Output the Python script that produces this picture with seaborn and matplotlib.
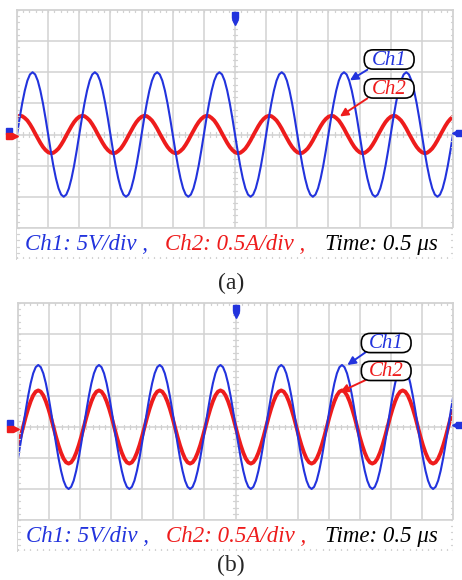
import numpy as np
import pandas as pd
import matplotlib
matplotlib.use("Agg")
import matplotlib.pyplot as plt
from matplotlib.patches import FancyBboxPatch
import seaborn as sns

sns.set_theme(style="white")
plt.rcParams['font.family'] = ['Liberation Serif', 'DejaVu Serif']

# ---- data (in scope divisions), one period sampled at 24 points ----
# panel (a): period 2.0 div, 7 periods across the screen
period_a = 2.0
ch1_a_cycle = [0.0, 0.52, 1.0, 1.41, 1.73, 1.93, 2.0, 1.93, 1.73, 1.41, 1.0, 0.52,
               0.0, -0.52, -1.0, -1.41, -1.73, -1.93, -2.0, -1.93, -1.73, -1.41, -1.0, -0.52]
ch2_a_cycle = [0.57, 0.60, 0.59, 0.53, 0.45, 0.33, 0.19, 0.03, -0.12, -0.27, -0.40, -0.50,
               -0.57, -0.60, -0.59, -0.53, -0.45, -0.33, -0.19, -0.03, 0.12, 0.27, 0.40, 0.50]
# panel (b): period 1.955 div
period_b = 1.955
ch1_b_cycle = [-1.0, -0.52, 0.0, 0.52, 1.0, 1.41, 1.73, 1.93, 2.0, 1.93, 1.73, 1.41,
               1.0, 0.52, 0.0, -0.52, -1.0, -1.41, -1.73, -1.93, -2.0, -1.93, -1.73, -1.41]
ch2_b_cycle = [-0.59, -0.31, 0.0, 0.31, 0.59, 0.83, 1.02, 1.14, 1.18, 1.14, 1.02, 0.83,
               0.59, 0.31, 0.0, -0.31, -0.59, -0.83, -1.02, -1.14, -1.18, -1.14, -1.02, -0.83]

channel_labels = ["Ch1", "Ch2"]
scale_labels = ["Ch1: 5V/div ,", "Ch2: 0.5A/div ,", "Time: 0.5 \u03bcs"]
panel_labels = ["(a)", "(b)"]

BLUE = "#2233dd"
RED = "#ee1c1c"
GRID = "#d2d2d2"


def build(cycle1, cycle2, period):
    n_cycles = 8
    v1 = np.tile(cycle1, n_cycles)
    v2 = np.tile(cycle2, n_cycles)
    x = np.arange(len(v1)) * period / len(cycle1)
    v1 = np.append(v1, cycle1[0])
    v2 = np.append(v2, cycle2[0])
    x = np.append(x, len(cycle1) * n_cycles * period / len(cycle1))
    df = pd.DataFrame({"x": np.concatenate([x, x]),
                       "v": np.concatenate([v1, v2]),
                       "ch": ["Ch1"] * len(x) + ["Ch2"] * len(x)})
    return df[df.x <= 14.05]


def scope_axes(ax):
    ax.set_xlim(0, 14)
    ax.set_ylim(-4, 4)
    ax.set_xticks([]); ax.set_yticks([])
    ax.set_xlabel(""); ax.set_ylabel("")
    for s in ax.spines.values():
        s.set_color(GRID)
        s.set_linewidth(1.3)
    for xv in range(1, 14):
        ax.plot([xv, xv], [-4, 4], color=GRID, lw=1.1, zorder=1)
    for yv in range(-3, 4):
        ax.plot([0, 14], [yv, yv], color=GRID, lw=1.1, zorder=1)
    # minor ticks on centre lines and border
    mx = np.arange(0, 14.01, 0.2)
    my = np.arange(-4, 4.01, 0.2)
    tl = 0.08
    for xv in mx:
        ax.plot([xv, xv], [-tl, tl], color=GRID, lw=0.9, zorder=1)
        ax.plot([xv, xv], [4, 4 - tl], color=GRID, lw=0.9, zorder=4)
        ax.plot([xv, xv], [-4, -4 + tl], color=GRID, lw=0.9, zorder=4)
    for yv in my:
        ax.plot([7 - tl * 0.9, 7 + tl * 0.9], [yv, yv], color=GRID, lw=0.9, zorder=1)
        ax.plot([0, tl * 0.9], [yv, yv], color=GRID, lw=0.9, zorder=4)
        ax.plot([14, 14 - tl * 0.9], [yv, yv], color=GRID, lw=0.9, zorder=4)
    # white strip for the scale text
    ax.fill_between([0, 14], -4, -3, color="white", zorder=3)
    ax.plot([0, 14], [-3, -3], color=GRID, lw=1.1, zorder=3.5)
    # channel markers
    ax.plot([-0.25], [0.12], marker="s", ms=5, color=BLUE, clip_on=False, zorder=6)
    ax.plot([-0.25], [-0.05], marker="s", ms=5, color=RED, clip_on=False, zorder=6)
    ax.plot([-0.08], [-0.05], marker=">", ms=4, color=RED, clip_on=False, zorder=6)
    ax.plot([14.2], [0.05], marker="s", ms=5, color=BLUE, clip_on=False, zorder=6)
    ax.plot([14.05], [0.05], marker="<", ms=4, color=BLUE, clip_on=False, zorder=6)
    ax.plot([7], [3.85], marker="s", ms=5, color=BLUE, clip_on=False, zorder=6)
    ax.plot([7], [3.62], marker="v", ms=4, color=BLUE, clip_on=False, zorder=6)
    # scale text
    xs = [0.26, 4.75, 9.89]
    cols = [BLUE, RED, "black"]
    for xv, t, c in zip(xs, scale_labels, cols):
        ax.text(xv, -3.52, t, color=c, fontsize=16.5, fontstyle="italic",
                ha="left", va="center", zorder=5)


fig = plt.figure(figsize=(4.62, 5.80), dpi=100)
ax_a = fig.add_axes([17 / 462, 1 - 259 / 580, 436 / 462, 249 / 580])
ax_b = fig.add_axes([18 / 462, 1 - 551 / 580, 435 / 462, 248 / 580])

panels = [
    (ax_a, build(ch1_a_cycle, ch2_a_cycle, period_a),
     [(11.95, 2.41), (11.95, 1.48)],
     [((11.25, 2.08), (10.69, 1.74)), ((11.25, 1.16), (10.37, 0.58))]),
    (ax_b, build(ch1_b_cycle, ch2_b_cycle, period_b),
     [(11.85, 2.71), (11.85, 1.81)],
     [((11.2, 2.42), (10.6, 2.0)), ((11.2, 1.52), (10.37, 1.13))]),
]

BOX_W, BOX_H = 1.6, 0.62

for ax, df, boxes, arrows in panels:
    sns.lineplot(data=df[df.ch == "Ch2"], x="x", y="v", color=RED, lw=2.8,
                 ax=ax, zorder=2, estimator=None, sort=False)
    sns.lineplot(data=df[df.ch == "Ch1"], x="x", y="v", color=BLUE, lw=1.5,
                 ax=ax, zorder=2.5, estimator=None, sort=False)
    scope_axes(ax)
    for (bx, by), lab, c in zip(boxes, channel_labels, [BLUE, RED]):
        patch = FancyBboxPatch((bx - BOX_W / 2 + 0.28, by - BOX_H / 2 + 0.28),
                               BOX_W - 0.56, BOX_H - 0.56,
                               boxstyle="round,pad=0.28,rounding_size=0.29",
                               fc="white", ec="black", lw=1.2, zorder=7)
        ax.add_patch(patch)
        ax.text(bx, by - 0.02, lab, color=c, fontsize=15, fontstyle="italic",
                ha="center", va="center", zorder=8)
    for (s, e), c in zip(arrows, [BLUE, RED]):
        ax.annotate("", xy=e, xytext=s,
                    arrowprops=dict(arrowstyle="-|>", color=c, lw=1.4,
                                    mutation_scale=12, shrinkA=0, shrinkB=0),
                    zorder=6)

fig.text(231 / 462, 1 - 283 / 580, panel_labels[0], ha="center", va="center", fontsize=17)
fig.text(231 / 462, 1 - 565 / 580, panel_labels[1], ha="center", va="center", fontsize=17)

fig.savefig("out.png", dpi=100)
